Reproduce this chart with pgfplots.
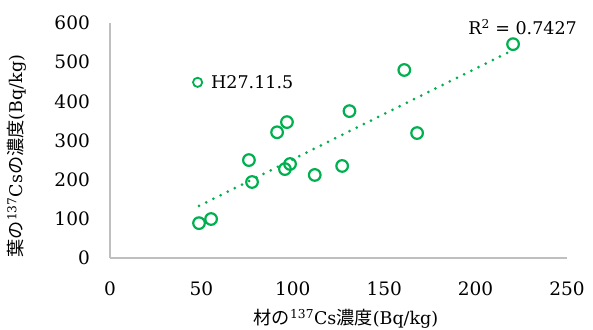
\documentclass[border=0pt]{standalone}
\usepackage{pgfplots}
\pgfplotsset{compat=1.18}
\usepackage{fontspec}
\setmainfont{DejaVu Serif}
\newfontfamily\jp[Scale=1.04]{Noto Sans CJK JP}
\definecolor{exgreen}{HTML}{00B050}
\definecolor{axgray}{HTML}{BFBFBF}
\newcommand{\bigf}{\fontsize{17.5}{21}\selectfont}
\newcommand{\tickf}{\fontsize{18.5}{22}\selectfont}
\pgfplotsset{mylegimg/.style={legend image code/.code={\draw[##1, mark size=4.6pt, mark options={line width=1.8pt}] plot coordinates {(0pt,0pt)};}}}
\begin{document}
\begin{tikzpicture}
\begin{axis}[
  at={(0pt,0pt)}, anchor=south west,
  scale only axis, width=457pt, height=235pt,
  xmin=0, xmax=250, ymin=0, ymax=600,
  xtick={0,50,...,250}, ytick={0,100,...,600},
  separate axis lines,
  axis x line=bottom, axis y line=left,
  axis line style={-, draw=axgray, line width=1.5pt},
  major tick length=0pt,
  /pgf/number format/assume math mode=true,
  tick label style={font=\tickf},
  yticklabel style={anchor=east, inner sep=0pt, xshift=-20pt},
  xticklabel style={anchor=north, inner sep=0pt, yshift=-24pt},
  clip=false,
  legend style={at={(axis cs:45.3,448.5)}, anchor=west, draw=none, fill=none,
    inner sep=0pt, font=\bigf, column sep=7pt},
  legend cell align=left,
]
\addplot[exgreen, only marks, mark=o, mark size=5.8pt,
  mark options={line width=2.2pt}, mylegimg]
  coordinates {
  (48.7,89) (55.3,99.5) (76,250) (77.7,194) (91.4,321) (96.8,347)
  (95.7,227) (98.5,240) (112,212) (127,235) (131,375) (161,480)
  (168,319) (220.5,546)
};
\addlegendentry{H27.11.5}
\addplot[exgreen, line width=3pt, line cap=round, dash pattern=on 0pt off 8pt, forget plot]
  coordinates {(48.7,133.0) (220.5,531.1)};
\node[anchor=east, font=\bigf, inner sep=0pt] at (axis cs:255.5,590) {R\textsuperscript{2} = 0.7427};
\end{axis}
\node[font=\bigf] at (236pt,-61pt) {{\jp 材の}\textsuperscript{137}Cs{\jp 濃度}(Bq/kg)};
\node[font=\bigf, rotate=90] at (-93pt,102pt) {{\jp 葉の}\textsuperscript{137}Cs{\jp の濃度}(Bq/kg)};
\pgfresetboundingbox
\path (-110pt,-71pt) rectangle (483pt,258pt);
\end{tikzpicture}
\end{document}
